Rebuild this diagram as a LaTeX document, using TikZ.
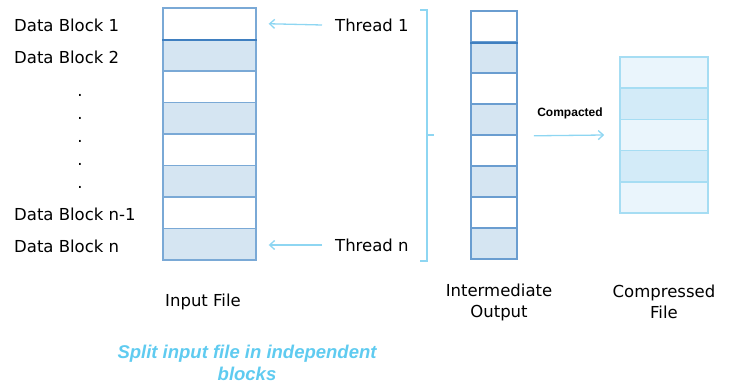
\documentclass[tikz,border=0pt]{standalone}
\usepackage{fontspec}
\setmainfont{DejaVu Sans}
\newfontfamily\arialfont{Liberation Sans}
\usepackage{tikz}
\usetikzlibrary{arrows, arrows.meta, positioning, calc}

\definecolor{blockblue}{HTML}{D5E5F2}
\definecolor{inborder}{HTML}{7AA9D6}
\definecolor{sepblue}{HTML}{3F7FC0}
\definecolor{outborder}{HTML}{6A9DD0}
\definecolor{compwhite}{HTML}{EAF5FC}
\definecolor{compblue}{HTML}{D3EBF8}
\definecolor{compborder}{HTML}{A6DDF3}
\definecolor{flowblue}{HTML}{8ED6F2}
\definecolor{noteblue}{HTML}{5FCBF0}

\tikzset{
  inblock/.style={draw=inborder, line width=1.4pt, inner sep=0pt, minimum width=93pt, minimum height=31.5pt},
  outblock/.style={draw=outborder, line width=1.6pt, inner sep=0pt, minimum width=46pt, minimum height=31pt},
  compblock/.style={draw=compborder, line width=1.6pt, inner sep=0pt, minimum width=88pt, minimum height=31.2pt},
  lbl/.style={font=\fontsize{16.5}{21}\selectfont, inner sep=0pt},
  flow/.style={-{Straight Barb[length=5pt, width=9pt]}, draw=flowblue, line width=1.3pt},
  sepline/.style={draw=sepblue, line width=2pt}
}

\begin{document}
\begin{tikzpicture}[x=1pt, y=-1pt]
				\useasboundingbox (0,0) rectangle (729,385);
				
				% input file
				\node[inblock, fill=white] (ib1) at (209.5,23.75) {};
				\node[inblock, fill=blockblue] (ib2) at (209.5,55.25) {};
				\node[inblock, fill=white] (ib3) at (209.5,86.75) {};
				\node[inblock, fill=blockblue] (ib4) at (209.5,118.25) {};
				\node[inblock, fill=white] (ib5) at (209.5,149.75) {};
				\node[inblock, fill=blockblue] (ib6) at (209.5,181.25) {};
				\node[inblock, fill=white] (ib7) at (209.5,212.75) {};
				\node[inblock, fill=blockblue] (ib8) at (209.5,244.25) {};
				\draw[sepline] (ib1.south west) -- (ib1.south east);
				
				\node[lbl, anchor=west] (db1) at (14,25) {Data Block 1};
				\node[lbl, anchor=west] (db2) at (14,57) {Data Block 2};
				\node[lbl, anchor=base] (d1) at (80,97) {.};
				\node[lbl, anchor=base] (d2) at (80,120) {.};
				\node[lbl, anchor=base] (d3) at (80,143) {.};
				\node[lbl, anchor=base] (d4) at (80,166) {.};
				\node[lbl, anchor=base] (d5) at (80,189) {.};
				\node[lbl, anchor=west] (dbn1) at (14,214) {Data Block n-1};
				\node[lbl, anchor=west] (dbn) at (14,246) {Data Block n};
				\node[lbl] (infile) at (203,302) {Input File};
				
				% threads
				\node[lbl, anchor=west] (t1) at (335,25) {Thread 1};
				\node[lbl, anchor=west] (tn) at (335,245) {Thread n};
				\draw[flow] ([xshift=-13pt]t1.west) -- ([xshift=12pt]ib1.east);
				\draw[flow] ([xshift=-13pt]tn.west) -- ([xshift=12pt]ib8.east |- tn.west);
				\draw[flowblue, line width=1.1pt] (420,10) -- (427,10) -- (427,261) -- (420,261);
				\draw[flowblue, line width=1.1pt] (427,135) -- (434,135);
				
				% intermediate output
				\node[outblock, fill=white] (ob1) at (494,26.5) {};
				\node[outblock, fill=blockblue] (ob2) at (494,57.5) {};
				\node[outblock, fill=white] (ob3) at (494,88.5) {};
				\node[outblock, fill=blockblue] (ob4) at (494,119.5) {};
				\node[outblock, fill=white] (ob5) at (494,150.5) {};
				\node[outblock, fill=blockblue] (ob6) at (494,181.5) {};
				\node[outblock, fill=white] (ob7) at (494,212.5) {};
				\node[outblock, fill=blockblue] (ob8) at (494,243.5) {};
				\draw[sepline] (ob1.south west) -- (ob1.south east);
				\node[lbl, align=center] (interout) at (499,302) {Intermediate\\Output};
				
				% compressed file
				\node[compblock, fill=compwhite] (cb1) at (664,72.6) {};
				\node[compblock, fill=compblue] (cb2) at (664,103.8) {};
				\node[compblock, fill=compwhite] (cb3) at (664,135) {};
				\node[compblock, fill=compblue] (cb4) at (664,166.2) {};
				\node[compblock, fill=compwhite] (cb5) at (664,197.4) {};
				\node[lbl, align=center] (compfile) at (664,302) {Compressed\\File};
				
				\node[font=\arialfont\bfseries\fontsize{12}{14}\selectfont, inner sep=0pt] (compacted) at (570,113) {Compacted};
				\draw[flow] ([xshift=16pt]ob4.south east) -- ([xshift=-15pt]cb3.west);
				
				\node[font=\arialfont\bfseries\itshape\fontsize{18.5}{22}\selectfont, text=noteblue, align=center, inner sep=0pt] (note) at (247,363) {Split input file in independent\\blocks};
			\end{tikzpicture}
\end{document}
